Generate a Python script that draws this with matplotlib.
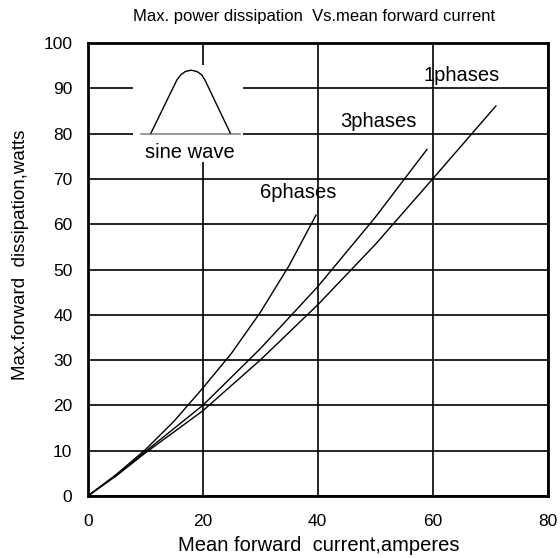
import numpy as np
import matplotlib
matplotlib.use("Agg")
import matplotlib.pyplot as plt
from matplotlib.patches import Rectangle

plt.rcParams['font.family'] = ['Liberation Sans', 'DejaVu Sans']

# curves
x_1ph = [0, 5, 10, 20, 30, 40, 50, 60, 71]
y_1ph = [0, 4.5, 9.5, 18.8, 30, 42.2, 55.5, 70, 86.1]
x_3ph = [0, 5, 10, 20, 30, 40, 50, 59]
y_3ph = [0, 4.6, 9.8, 20, 32.5, 46.2, 61.5, 76.5]
x_6ph = [0, 5, 10, 15, 20, 25, 30, 35, 39.7]
y_6ph = [0, 4.8, 10.2, 16.5, 23.8, 31.5, 40.5, 50.8, 62]

labels = ["1phases", "3phases", "6phases"]
label_x = [65.0, 50.6, 36.6]
label_y = [92.9, 82.7, 67.0]

# little sine wave sketch in the inset
wave_x = [11.0, 15.5, 16.2, 17.0, 18.0, 19.0, 19.8, 20.4, 24.8]
wave_y = [80.1, 91.8, 93.0, 93.7, 94.0, 93.7, 93.0, 91.8, 80.1]

fig = plt.figure(figsize=(5.6, 5.58), dpi=100)
ax = fig.add_axes([0.1566, 0.111, 0.8214, 0.812])

ax.set_xlim(0, 80)
ax.set_ylim(0, 100)
ax.set_xticks([0, 20, 40, 60, 80])
ax.set_yticks(range(0, 101, 10))
ax.tick_params(length=0, labelsize=12.5)
ax.tick_params(axis='y', pad=11)
ax.tick_params(axis='x', pad=13)
ax.grid(True, color='black', linewidth=1.2)
ax.set_axisbelow(True)
for s in ax.spines.values():
    s.set_linewidth(2)

# white box that hides the grid behind the inset
ax.add_patch(Rectangle((7.9, 73.7), 19.1, 21.4, facecolor='white',
                       edgecolor='none', zorder=1.5))
ax.plot([9.3, 26.5], [80, 80], color='#888888', lw=1.2, zorder=2)
ax.plot(wave_x, wave_y, color='black', lw=1.0, zorder=2)
ax.text(17.8, 75.9, "sine wave", ha='center', va='center', fontsize=14.5, zorder=3)

for xs, ys in [(x_1ph, y_1ph), (x_3ph, y_3ph), (x_6ph, y_6ph)]:
    ax.plot(xs, ys, color='black', lw=1.0, zorder=3)

for t, lx, ly in zip(labels, label_x, label_y):
    ax.text(lx, ly, t, ha='center', va='center', fontsize=14.5, zorder=3)

ax.set_xlabel("Mean forward  current,amperes", fontsize=14.5, va='center')
ax.xaxis.set_label_coords(0.503, -0.11)
ax.set_ylabel("Max.forward  dissipation,watts", fontsize=13.5, va='center')
ax.yaxis.set_label_coords(-0.145, 0.533)
fig.text(314 / 560, 1 - 17 / 558, "Max. power dissipation  Vs.mean forward current",
         ha='center', va='center', fontsize=12)

fig.savefig("out.png", dpi=100)
